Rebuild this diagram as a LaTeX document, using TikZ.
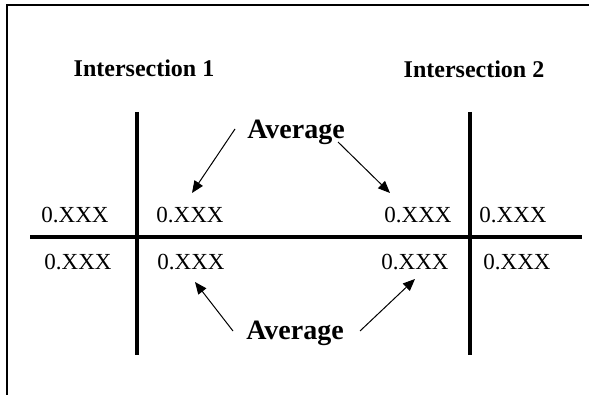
\documentclass[tikz,border=0pt]{standalone}
\usepackage{fontspec}
\setmainfont{Liberation Serif}
\usetikzlibrary{arrows.meta}

\begin{document}
\begin{tikzpicture}[x=0.5pt, y=-0.5pt,
          title/.style={font=\fontsize{12}{14}\selectfont\bfseries, anchor=base, inner sep=0pt},
          avg/.style={font=\fontsize{14}{16}\selectfont\bfseries, anchor=base, inner sep=0pt},
          val/.style={font=\fontsize{11.5}{13}\selectfont, anchor=base, inner sep=0pt},
          arr/.style={-{Triangle[length=6pt,width=5pt]}, line width=0.5pt},
          bar/.style={line width=1.8pt},
          frame/.style={line width=1pt}
        ]
        \useasboundingbox (0,0) rectangle (589,395);
        \draw[frame] (7,395) -- (7,5) -- (589,5);

        \node[title] (I1) at (144,77) {Intersection 1};
        \node[title] (I2) at (474,78) {Intersection 2};

        % the two crossings
        \draw[bar] (30,237) -- (582,237);
        \draw[bar] (137,112) -- (137,355);
        \draw[bar] (470,112) -- (470,355);

        \node[val] (a1) at (75,223)  {0.XXX};
        \node[val] (a2) at (190,223) {0.XXX};
        \node[val] (a3) at (418,223) {0.XXX};
        \node[val] (a4) at (513,223) {0.XXX};
        \node[val] (b1) at (78,270)  {0.XXX};
        \node[val] (b2) at (191,270) {0.XXX};
        \node[val] (b3) at (415,270) {0.XXX};
        \node[val] (b4) at (517,270) {0.XXX};

        \node[avg] (AT) at (296,139) {Average};
        \node[avg] (AB) at (295,339) {Average};

        \coordinate (t1) at (235,129);
        \coordinate (h1) at (192,193);
        \coordinate (t2) at (338,142);
        \coordinate (h2) at (390,193);
        \coordinate (t3) at (233,331);
        \coordinate (h3) at (195,282);
        \coordinate (t4) at (360,331);
        \coordinate (h4) at (415,279);

        \draw[arr] (t1) -- (h1);
        \draw[arr] (t2) -- (h2);
        \draw[arr] (t3) -- (h3);
        \draw[arr] (t4) -- (h4);
      \end{tikzpicture}
\end{document}
